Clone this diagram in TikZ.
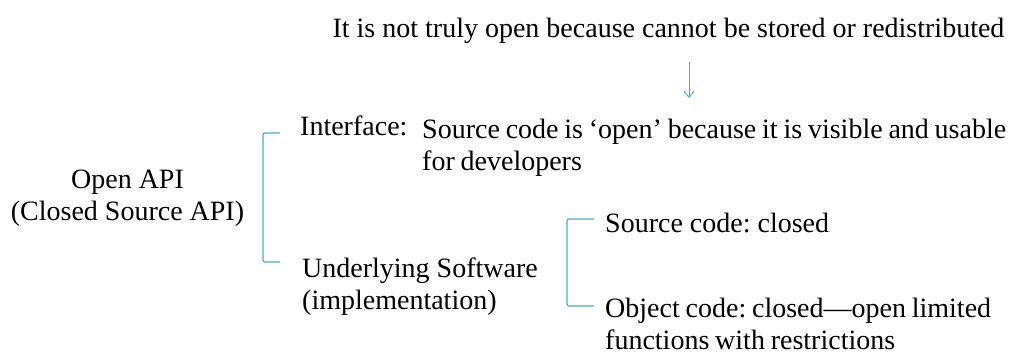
\documentclass[tikz,border=0pt]{standalone}
\usepackage{fontspec}
\setmainfont{Liberation Serif}
\usetikzlibrary{arrows.meta}
\definecolor{brk}{RGB}{75,172,198}
\newcommand\tightwords{\spaceskip=5.8pt plus 1pt minus 1pt\relax}
\frenchspacing

\begin{document}
\begin{tikzpicture}[x=1pt,y=1pt,
		txt/.style={inner sep=0pt,align=left,font=\fontsize{28}{32}\selectfont},
		tight/.style={font=\fontsize{28}{32}\selectfont\tightwords},
		brace/.style={brk,line width=1.2pt,rounded corners=2pt}]
		\useasboundingbox (0,0) rectangle (1012,-354);

		\node[txt,anchor=base] (note) at (668.5,-37) {It is not truly open because cannot be stored or redistributed};
		\coordinate (atop) at (689,-62);
		\coordinate (abot) at (689,-98);
		\draw[brk,line width=0.9pt,->,>={Straight Barb[length=6pt,width=10pt]}] (atop) -- (abot);

		% last line baselines
		\node[txt,anchor=base,align=center] (api) at (127.5,-220) {Open API\\(Closed Source API)};

		\node[txt,anchor=base west] (iface) at (300,-135) {Interface:};
		\node[txt,tight,anchor=base west] (src) at (422,-170) {Source code is `open' because it is visible and usable\\for developers};
		\node[txt,anchor=base west] (under) at (302,-309) {Underlying Software\\(implementation)};

		\coordinate (b1top) at (263,-133);
		\coordinate (b1bot) at (263,-262);
		\draw[brace] (280,-133) -- (b1top) -- (b1bot) -- (280,-262);

		\node[txt,anchor=base west] (scode) at (605,-232) {Source code: closed};
		\node[txt,tight,anchor=base west] (ocode) at (605,-349) {Object code: closed---open limited\\functions with restrictions};

		\coordinate (b2top) at (567,-219);
		\coordinate (b2bot) at (567,-306);
		\draw[brace] (594,-219) -- (b2top) -- (b2bot) -- (594,-306);
\end{tikzpicture}
\end{document}
